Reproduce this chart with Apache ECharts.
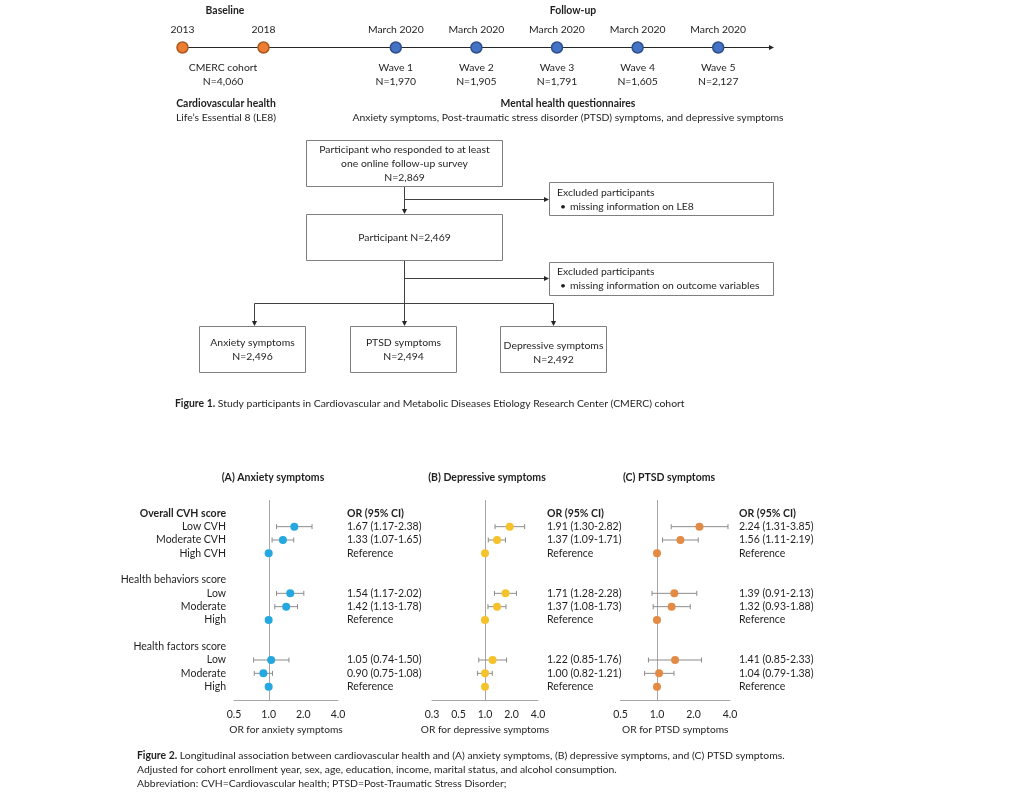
<!DOCTYPE html>
<html><head><meta charset="utf-8">
<script src="https://cdn.jsdelivr.net/npm/echarts@6/dist/echarts.min.js"></script>
<style>html,body{margin:0;padding:0;background:#fff}#c{width:1024px;height:797px}</style>
</head><body><div id="c"></div><script>
// ---------- Timeline data ----------
const baselineYears = ['2013', '2018'];
const baselineCohort = ['CMERC cohort', 'N=4,060'];
const followDates = ['March 2020', 'March 2020', 'March 2020', 'March 2020', 'March 2020'];
const waveLabels = ['Wave 1', 'Wave 2', 'Wave 3', 'Wave 4', 'Wave 5'];
const waveN = ['N=1,970', 'N=1,905', 'N=1,791', 'N=1,605', 'N=2,127'];

// ---------- Flowchart text ----------
const flowTop = ['Participant who responded to at least', 'one online follow-up survey', 'N=2,869'];
const flowMid = 'Participant N=2,469';
const excl1 = ['Excluded participants', 'missing information on LE8'];
const excl2 = ['Excluded participants', 'missing information on outcome variables'];
const outcomes = ['Anxiety symptoms', 'PTSD symptoms', 'Depressive symptoms'];
const outcomeN = ['N=2,496', 'N=2,494', 'N=2,492'];

// ---------- Forest plot data ----------
const rowLabels = ['Overall CVH score', 'Low CVH', 'Moderate CVH', 'High CVH', '',
  'Health behaviors score', 'Low', 'Moderate', 'High', '',
  'Health factors score', 'Low', 'Moderate', 'High'];
const orA = [null, 1.67, 1.33, 1.00, null, null, 1.54, 1.42, 1.00, null, null, 1.05, 0.90, 1.00];
const loA = [null, 1.17, 1.07, null, null, null, 1.17, 1.13, null, null, null, 0.74, 0.75, null];
const hiA = [null, 2.38, 1.65, null, null, null, 2.02, 1.78, null, null, null, 1.50, 1.08, null];
const orB = [null, 1.91, 1.37, 1.00, null, null, 1.71, 1.37, 1.00, null, null, 1.22, 1.00, 1.00];
const loB = [null, 1.30, 1.09, null, null, null, 1.28, 1.08, null, null, null, 0.85, 0.82, null];
const hiB = [null, 2.82, 1.71, null, null, null, 2.28, 1.73, null, null, null, 1.76, 1.21, null];
const orC = [null, 2.24, 1.56, 1.00, null, null, 1.39, 1.32, 1.00, null, null, 1.41, 1.04, 1.00];
const loC = [null, 1.31, 1.11, null, null, null, 0.91, 0.93, null, null, null, 0.85, 0.79, null];
const hiC = [null, 3.85, 2.19, null, null, null, 2.13, 1.88, null, null, null, 2.33, 1.38, null];
const xTicksA = ['0.5', '1.0', '2.0', '4.0'];
const xTicksB = ['0.3', '0.5', '1.0', '2.0', '4.0'];
const xTicksC = ['0.5', '1.0', '2.0', '4.0'];

// ---------- Styles ----------
const FONT = 'Lato, "Open Sans", sans-serif';
const TXT = '#1f1f1f';
const BOX = '#7F7F7F';
const AXIS = '#A6A6A6';
const ERR = '#8C8C8C';
const FS = 10.4;

function txt(x, y, s, o) {
  return { type: 'text', x: x, y: y, silent: true,
    style: Object.assign({ text: s, fontFamily: FONT, fontSize: FS, fill: TXT, align: 'center', verticalAlign: 'middle' }, o || {}) };
}
function ln(x1, y1, x2, y2, c) {
  return { type: 'line', silent: true, shape: { x1: x1, y1: y1, x2: x2, y2: y2 }, style: { stroke: c || '#404040', lineWidth: 1 } };
}
function box(x, y, w, h) {
  return { type: 'rect', silent: true, shape: { x: x, y: y, width: w, height: h }, style: { fill: '#fff', stroke: BOX, lineWidth: 1 } };
}
function arrowDown(x, y) {
  return { type: 'polygon', silent: true, shape: { points: [[x - 2.6, y - 5], [x + 2.6, y - 5], [x, y]] }, style: { fill: '#262626' } };
}
function arrowRight(x, y) {
  return { type: 'polygon', silent: true, shape: { points: [[x - 5, y - 2.6], [x - 5, y + 2.6], [x, y]] }, style: { fill: '#262626' } };
}

// ---------- Static graphics (timeline line, headings, flowchart, captions) ----------
const g = [];
g.push(ln(183, 47.5, 769, 47.5, '#262626'), arrowRight(774, 47.5));
g.push(txt(225, 10.5, 'Baseline', { fontWeight: 'bold' }));
g.push(txt(573, 10.5, 'Follow-up', { fontWeight: 'bold' }));
g.push(txt(226, 103.5, 'Cardiovascular health', { fontWeight: 'bold' }));
g.push(txt(226, 117.5, 'Life\u2019s Essential 8 (LE8)'));
g.push(txt(568, 103.5, 'Mental health questionnaires', { fontWeight: 'bold' }));
g.push(txt(568, 117.5, 'Anxiety symptoms, Post-traumatic stress disorder (PTSD) symptoms, and depressive symptoms'));

// flowchart lines
g.push(ln(404.5, 187, 404.5, 209), arrowDown(404.5, 214));
g.push(ln(404.5, 199.5, 544, 199.5), arrowRight(549, 199.5));
g.push(ln(404.5, 261, 404.5, 321), arrowDown(404.5, 326));
g.push(ln(404.5, 278.5, 544, 278.5), arrowRight(549, 278.5));
g.push(ln(254.5, 303.5, 553.5, 303.5));
g.push(ln(254.5, 303.5, 254.5, 321), arrowDown(254.5, 326));
g.push(ln(553.5, 303.5, 553.5, 321), arrowDown(553.5, 326));
// boxes
g.push(box(306.5, 140.5, 196, 46));
flowTop.forEach(function (s, i) { g.push(txt(404.5, 150 + i * 13.7, s)); });
g.push(box(306.5, 214.5, 196, 46));
g.push(txt(404.5, 238, flowMid));
g.push(box(549.5, 182.5, 224, 33));
g.push(txt(557, 192.5, excl1[0], { align: 'left' }));
g.push(txt(560, 206.5, '\u2022', { align: 'left' }));
g.push(txt(570, 206.5, excl1[1], { align: 'left' }));
g.push(box(549.5, 262.5, 224, 33));
g.push(txt(557, 272, excl2[0], { align: 'left' }));
g.push(txt(560, 286, '\u2022', { align: 'left' }));
g.push(txt(570, 286, excl2[1], { align: 'left' }));
const outBoxX = [199.5, 350.5, 500.5];
const outTextDy = [0, 0, 2.5];
outcomes.forEach(function (s, i) {
  g.push(box(outBoxX[i], 326.5, 106, 46));
  g.push(txt(outBoxX[i] + 53, 343 + outTextDy[i], s));
  g.push(txt(outBoxX[i] + 53, 357 + outTextDy[i], outcomeN[i]));
});
// captions
const CFS = 10.4;
const capRich = { b: { fontWeight: 'bold', fontFamily: FONT, fontSize: CFS, fill: TXT }, n: { fontFamily: FONT, fontSize: CFS, fill: TXT } };
g.push(txt(175, 403.5, '{b|Figure 1.}{n| Study participants in Cardiovascular and Metabolic Diseases Etiology Research Center (CMERC) cohort}', { align: 'left', rich: capRich }));
g.push(txt(137, 755.5, '{b|Figure 2.}{n| Longitudinal association between cardiovascular health and (A) anxiety symptoms, (B) depressive symptoms, and (C) PTSD symptoms.}', { align: 'left', rich: capRich }));
g.push(txt(137, 769.5, '{n|Adjusted for cohort enrollment year, sex, age, education, income, marital status, and alcohol consumption.}', { align: 'left', rich: capRich }));
g.push(txt(137, 783.5, '{n|Abbreviation: CVH=Cardiovascular health; PTSD=Post-Traumatic Stress Disorder;}', { align: 'left', rich: capRich }));

// ---------- Forest panels ----------
const panels = [
  { title: '(A) Anxiety symptoms', titleX: 273, name: 'OR for anxiety symptoms', color: '#25A8DF', or: orA, lo: loA, hi: hiA, min: 0.5, max: 4, ticks: xTicksA, left: 234, width: 104, showRows: true },
  { title: '(B) Depressive symptoms', titleX: 487, name: 'OR for depressive symptoms', color: '#F6C22B', or: orB, lo: loB, hi: hiB, min: 0.25, max: 4, ticks: xTicksB, left: 432, width: 106, showRows: false },
  { title: '(C) PTSD symptoms', titleX: 669, name: 'OR for PTSD symptoms', color: '#E38B45', or: orC, lo: loC, hi: hiC, min: 0.5, max: 4, ticks: xTicksC, left: 620.5, width: 109.5, showRows: false }
];
panels.forEach(function (p) { g.push(txt(p.titleX, 477.5, p.title, { fontWeight: 'bold', fontSize: 10.5 })); });

function orText(p, i) {
  if (i === 0) return '{b|OR (95% CI)}';
  if (p.or[i] == null) return '';
  if (p.lo[i] == null) return '{n|Reference}';
  return '{n|' + p.or[i].toFixed(2) + ' (' + p.lo[i].toFixed(2) + '-' + p.hi[i].toFixed(2) + ')}';
}
const labRich = { b: { fontWeight: 'bold', fontFamily: FONT, fontSize: 10.5, color: TXT }, n: { fontFamily: FONT, fontSize: 10.5, color: TXT } };

const grids = [
  { left: 142, top: 40, width: 162, height: 15 },
  { left: 355.5, top: 40, width: 403, height: 15 }
];
const xAxes = [];
const yAxes = [];
const series = [];
const catLabel = { fontFamily: FONT, fontSize: FS, color: TXT, interval: 0 };
xAxes.push({ gridIndex: 0, type: 'category', position: 'top', data: baselineYears, axisLine: { show: false }, axisTick: { show: false }, axisLabel: Object.assign({ margin: 5 }, catLabel) });
xAxes.push({ gridIndex: 0, type: 'category', position: 'bottom', data: [baselineCohort.join('\n')], axisLine: { show: false }, axisTick: { show: false }, axisLabel: Object.assign({ margin: 6, lineHeight: 14 }, catLabel) });
xAxes.push({ gridIndex: 1, type: 'category', position: 'top', data: followDates, axisLine: { show: false }, axisTick: { show: false }, axisLabel: Object.assign({ margin: 5 }, catLabel) });
xAxes.push({ gridIndex: 1, type: 'category', position: 'bottom', data: waveLabels.map(function (w, i) { return w + '\n' + waveN[i]; }), axisLine: { show: false }, axisTick: { show: false }, axisLabel: Object.assign({ margin: 6, lineHeight: 14 }, catLabel) });
yAxes.push({ gridIndex: 0, type: 'value', min: -1, max: 1, show: false });
yAxes.push({ gridIndex: 1, type: 'value', min: -1, max: 1, show: false });
series.push({ type: 'scatter', xAxisIndex: 0, yAxisIndex: 0, symbolSize: 11, silent: true,
  itemStyle: { color: '#ED7D31', borderColor: '#A95A22', borderWidth: 1.5, opacity: 1 },
  data: baselineYears.map(function (_, i) { return [i, 0]; }) });
series.push({ type: 'scatter', xAxisIndex: 2, yAxisIndex: 1, symbolSize: 11, silent: true,
  itemStyle: { color: '#4472C4', borderColor: '#2F4F8A', borderWidth: 1.5, opacity: 1 },
  data: followDates.map(function (_, i) { return [i, 0]; }) });

panels.forEach(function (p, k) {
  const gi = grids.length;
  grids.push({ left: p.left, top: 500, width: p.width, height: 200 });
  const xi = xAxes.length;
  xAxes.push({ gridIndex: gi, type: 'log', logBase: 2, min: p.min, max: p.max,
    name: p.name, nameLocation: 'middle', nameGap: 25,
    nameTextStyle: { fontFamily: FONT, fontSize: 10.2, color: TXT },
    axisLine: { show: true, onZero: false, lineStyle: { color: AXIS, width: 1 } }, axisTick: { show: false }, splitLine: { show: false }, minorTick: { show: false },
    axisLabel: { margin: 9, fontFamily: FONT, fontSize: 10.5, color: TXT, formatter: function (v, idx) { return p.ticks[idx] != null ? p.ticks[idx] : ''; } } });
  const yi = yAxes.length;
  yAxes.push({ gridIndex: gi, type: 'value', min: -1, max: 14, interval: 1, inverse: true, position: 'left',
    axisLine: { show: false }, axisTick: { show: false }, splitLine: { show: false },
    axisLabel: { show: p.showRows, margin: 8, rich: labRich,
      formatter: function (v) { const s = rowLabels[v]; if (!s) return ''; return (v === 0 ? '{b|' : '{n|') + s + '}'; } } });
  yAxes.push({ gridIndex: gi, type: 'value', min: -1, max: 14, interval: 1, inverse: true, position: 'right',
    axisLine: { show: false }, axisTick: { show: false }, splitLine: { show: false },
    axisLabel: { show: true, margin: 9, rich: labRich, formatter: function (v) { return (v >= 0 && v < rowLabels.length) ? orText(p, v) : ''; } } });
  // reference line at OR = 1
  series.push({ type: 'custom', xAxisIndex: xi, yAxisIndex: yi, silent: true, z: 1,
    data: [[1, 0]], encode: { x: 0, y: 1 },
    renderItem: function (params, api) {
      const c = api.coord([api.value(0), 0]);
      const cs = params.coordSys;
      const x = Math.round(c[0]) + 0.5;
      return { type: 'line', shape: { x1: x, y1: cs.y, x2: x, y2: cs.y + cs.height }, style: { stroke: AXIS, lineWidth: 1 } };
    } });
  // error bars
  const errData = [];
  p.or.forEach(function (v, i) { if (p.lo[i] != null) errData.push([p.lo[i], p.hi[i], i]); });
  series.push({ type: 'custom', xAxisIndex: xi, yAxisIndex: yi, silent: true, z: 2,
    data: errData, encode: { x: [0, 1], y: 2 },
    renderItem: function (params, api) {
      const y = api.value(2);
      const a = api.coord([api.value(0), y]);
      const b = api.coord([api.value(1), y]);
      const h = 2.5;
      const st = { stroke: ERR, lineWidth: 1 };
      return { type: 'group', children: [
        { type: 'line', shape: { x1: a[0], y1: a[1], x2: b[0], y2: b[1] }, style: st },
        { type: 'line', shape: { x1: a[0], y1: a[1] - h, x2: a[0], y2: a[1] + h }, style: st },
        { type: 'line', shape: { x1: b[0], y1: b[1] - h, x2: b[0], y2: b[1] + h }, style: st }
      ] };
    } });
  const ptData = [];
  p.or.forEach(function (v, i) { if (v != null) ptData.push([v, i]); });
  series.push({ type: 'scatter', xAxisIndex: xi, yAxisIndex: yi, silent: true, z: 3, symbolSize: 8,
    itemStyle: { color: p.color, opacity: 1 }, data: ptData });
});

const chart = echarts.init(document.getElementById('c'), null, { renderer: 'canvas', width: 1024, height: 797 });
chart.setOption({
  animation: false,
  backgroundColor: '#ffffff',
  textStyle: { fontFamily: FONT },
  grid: grids,
  xAxis: xAxes,
  yAxis: yAxes,
  series: series,
  graphic: { elements: g }
});
</script></body></html>
